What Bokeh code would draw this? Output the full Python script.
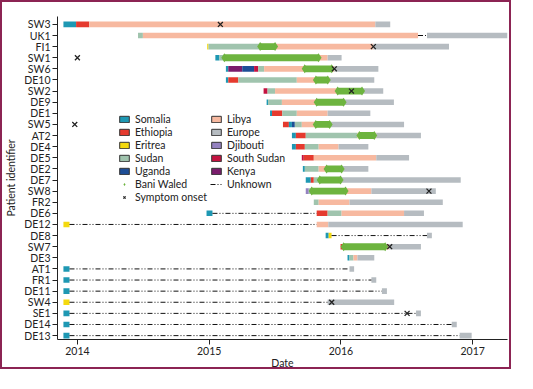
from bokeh.plotting import figure
from bokeh.models import Range1d, Legend, LegendItem, FixedTicker, ColumnDataSource
from bokeh.embed import file_html
from bokeh.resources import INLINE

FONT = "Lato"

# ---------------- data ----------------
patients = ["SW3", "UK1", "FI1", "SW1", "SW6", "DE10", "SW2", "DE9", "DE1", "SW5",
            "AT2", "DE4", "DE5", "DE2", "DE7", "SW8", "FR2", "DE6", "DE12", "DE8",
            "SW7", "DE3", "AT1", "FR1", "DE11", "SW4", "SE1", "DE14", "DE13"]

places = ["Somalia", "Ethiopia", "Eritrea", "Sudan", "Uganda",
          "Libya", "Europe", "Djibouti", "South Sudan", "Kenya"]
place_colors = ["#1E98B3", "#E53A2E", "#F4D90E", "#A0C4AE", "#1D4E96",
                "#F7B9A0", "#B6BCC1", "#9482C0", "#C41240", "#7A1C6C"]

year_ticks = [2014, 2015, 2016, 2017]

# stays (decimal years)
seg_patient = ["SW3", "SW3", "SW3", "SW3",
               "UK1", "UK1", "UK1",
               "FI1", "FI1", "FI1", "FI1",
               "SW1", "SW1", "SW1", "SW1",
               "SW6", "SW6", "SW6", "SW6", "SW6", "SW6", "SW6",
               "DE10", "DE10", "DE10", "DE10", "DE10",
               "SW2", "SW2", "SW2", "SW2",
               "DE9", "DE9", "DE9", "DE9",
               "DE1", "DE1", "DE1", "DE1", "DE1",
               "SW5", "SW5", "SW5", "SW5", "SW5", "SW5",
               "AT2", "AT2", "AT2", "AT2", "AT2",
               "DE4", "DE4", "DE4", "DE4", "DE4",
               "DE5", "DE5", "DE5", "DE5",
               "DE2", "DE2", "DE2", "DE2",
               "DE7", "DE7", "DE7", "DE7", "DE7",
               "SW8", "SW8", "SW8", "SW8",
               "FR2", "FR2", "FR2",
               "DE6", "DE6", "DE6", "DE6", "DE6",
               "DE12", "DE12", "DE12",
               "DE8", "DE8", "DE8",
               "SW7", "SW7", "SW7",
               "DE3", "DE3", "DE3", "DE3",
               "AT1", "AT1", "FR1", "FR1", "DE11", "DE11", "SW4", "SW4",
               "SE1", "SE1", "DE14", "DE14", "DE13", "DE13"]
seg_place = ["Somalia", "Ethiopia", "Libya", "Europe",
             "Sudan", "Libya", "Europe",
             "Eritrea", "Sudan", "Libya", "Europe",
             "Somalia", "Sudan", "Libya", "Europe",
             "Somalia", "Kenya", "Uganda", "South Sudan", "Sudan", "Libya", "Europe",
             "Somalia", "Ethiopia", "Sudan", "Libya", "Europe",
             "South Sudan", "Sudan", "Libya", "Europe",
             "Somalia", "Sudan", "Libya", "Europe",
             "Somalia", "Ethiopia", "Sudan", "Libya", "Europe",
             "Ethiopia", "Somalia", "Uganda", "Sudan", "Libya", "Europe",
             "Somalia", "Ethiopia", "Sudan", "Libya", "Europe",
             "Somalia", "Ethiopia", "Sudan", "Libya", "Europe",
             "South Sudan", "Ethiopia", "Libya", "Europe",
             "Somalia", "Sudan", "Libya", "Europe",
             "Somalia", "Ethiopia", "Sudan", "Libya", "Europe",
             "Djibouti", "Sudan", "Libya", "Europe",
             "Sudan", "Libya", "Europe",
             "Somalia", "Ethiopia", "Sudan", "Libya", "Europe",
             "Eritrea", "Libya", "Europe",
             "Somalia", "Eritrea", "Europe",
             "Ethiopia", "Libya", "Europe",
             "Somalia", "Sudan", "Libya", "Europe",
             "Somalia", "Europe", "Somalia", "Europe", "Somalia", "Europe", "Eritrea", "Europe",
             "Somalia", "Europe", "Somalia", "Europe", "Somalia", "Europe"]
seg_start = [2013.894, 2013.990, 2014.090, 2016.261,
             2014.460, 2014.497, 2016.653,
             2014.985, 2014.995, 2015.400, 2016.246,
             2015.047, 2015.078, 2015.115, 2015.899,
             2015.127, 2015.145, 2015.251, 2015.341, 2015.372, 2015.417, 2015.950,
             2015.127, 2015.145, 2015.221, 2015.665, 2015.914,
             2015.413, 2015.443, 2015.500, 2016.155,
             2015.436, 2015.447, 2015.552, 2016.020,
             2015.462, 2015.477, 2015.555, 2015.665, 2015.899,
             2015.560, 2015.605, 2015.628, 2015.650, 2015.703, 2015.914,
             2015.628, 2015.658, 2015.733, 2016.125, 2016.268,
             2015.628, 2015.658, 2015.726, 2015.831, 2015.982,
             2015.703, 2015.718, 2015.794, 2016.268,
             2015.711, 2015.726, 2015.831, 2016.005,
             2015.733, 2015.771, 2015.794, 2015.839, 2015.997,
             2015.733, 2015.756, 2015.778, 2016.231,
             2015.794, 2015.831, 2016.065,
             2014.980, 2015.816, 2015.899, 2016.005, 2016.479,
             2013.894, 2015.816, 2015.904,
             2015.884, 2015.907, 2016.653,
             2015.997, 2016.020, 2016.366,
             2016.050, 2016.065, 2016.095, 2016.125,
             2013.894, 2016.065, 2013.894, 2016.231, 2013.894, 2016.311, 2013.894, 2015.899,
             2013.894, 2016.570, 2013.894, 2016.841, 2013.894, 2016.901]
seg_end = [2013.990, 2014.090, 2016.261, 2016.374,
           2014.497, 2016.585, 2017.271,
           2014.995, 2015.400, 2016.246, 2016.820,
           2015.078, 2015.115, 2015.899, 2016.005,
           2015.145, 2015.251, 2015.341, 2015.372, 2015.417, 2015.950, 2016.284,
           2015.145, 2015.221, 2015.665, 2015.914, 2016.253,
           2015.443, 2015.500, 2016.155, 2016.321,
           2015.447, 2015.552, 2016.020, 2016.402,
           2015.477, 2015.555, 2015.665, 2015.899, 2016.223,
           2015.605, 2015.628, 2015.650, 2015.703, 2015.914, 2016.479,
           2015.658, 2015.733, 2016.125, 2016.268, 2016.607,
           2015.658, 2015.726, 2015.831, 2015.982, 2016.208,
           2015.718, 2015.794, 2016.268, 2016.517,
           2015.726, 2015.831, 2016.005, 2016.208,
           2015.771, 2015.794, 2015.839, 2015.997, 2016.909,
           2015.756, 2015.778, 2016.231, 2016.720,
           2015.831, 2016.065, 2016.773,
           2015.025, 2015.899, 2016.005, 2016.479, 2016.630,
           2013.940, 2015.904, 2016.924,
           2015.907, 2015.929, 2016.690,
           2016.020, 2016.366, 2016.607,
           2016.065, 2016.095, 2016.125, 2016.253,
           2013.940, 2016.100, 2013.940, 2016.268, 2013.940, 2016.349, 2013.940, 2016.404,
           2013.940, 2016.607, 2013.940, 2016.879, 2013.940, 2016.992]

# unknown whereabouts
unk_patient = ["UK1", "DE6", "DE12", "DE8", "AT1", "FR1", "DE11", "SW4", "SE1", "DE14", "DE13"]
unk_start = [2016.585, 2015.025, 2013.940, 2015.929, 2013.940, 2013.940, 2013.940,
             2013.940, 2013.940, 2013.940, 2013.940]
unk_end = [2016.653, 2015.816, 2015.816, 2016.653, 2016.065, 2016.231, 2016.311,
           2015.899, 2016.570, 2016.841, 2016.901]

# Bani Waled stays
bw_patient = ["FI1", "SW1", "SW6", "DE10", "SW2", "DE9", "SW5", "AT2", "DE2", "DE7", "SW8", "SW7"]
bw_start = [2015.387, 2015.115, 2015.725, 2015.810, 2015.975, 2015.816, 2015.809,
            2016.140, 2015.891, 2015.839, 2015.778, 2016.020]
bw_end = [2015.500, 2015.830, 2015.930, 2015.900, 2016.160, 2016.020, 2015.914,
          2016.253, 2016.005, 2015.997, 2016.035, 2016.336]

# symptom onset
onset_patient = ["SW3", "FI1", "SW1", "SW6", "SW2", "SW5", "SW8", "SW7", "SW4", "SE1"]
onset_date = [2015.085, 2016.246, 2014.000, 2015.950, 2016.080, 2013.980,
              2016.668, 2016.370, 2015.930, 2016.502]

# ---------------- figure ----------------
color_of = dict(zip(places, place_colors))
row_of = {name: i for i, name in enumerate(patients)}
GREEN = "#6DB43F"
DASH = "5 2 1 2 1 2"
PAD_TOP, PAD_BOTTOM = 0.71, 0.35

p = figure(width=511, height=369,
           x_range=Range1d(2013.849, 2017.264),
           y_range=Range1d(len(patients) - 1 + PAD_BOTTOM, -PAD_TOP),
           output_backend="svg", toolbar_location=None,
           min_border_left=54, min_border_top=14, min_border_right=6, min_border_bottom=28)
p.styles = {"border": "2px solid #8C2453"}
p.xgrid.visible = False
p.ygrid.visible = False
p.outline_line_color = None

src = ColumnDataSource(dict(y=[row_of[n] for n in seg_patient], left=seg_start, right=seg_end,
                            color=[color_of[c] for c in seg_place]))
p.hbar(y="y", left="left", right="right", height=0.5, fill_color="color",
       line_color=None, source=src)

unk_y = [row_of[n] for n in unk_patient]
p.segment(x0=unk_start, y0=unk_y, x1=unk_end, y1=unk_y,
          line_color="#111111", line_width=1, line_dash=DASH)

bw_y = [row_of[n] for n in bw_patient]
p.hbar(y=bw_y, left=bw_start, right=bw_end, height=0.62,
       fill_color=GREEN, line_color=None)
p.scatter(x=bw_start + bw_end, y=bw_y + bw_y, marker="diamond",
          size=9, fill_color=GREEN, line_color=None)

on_y = [row_of[n] for n in onset_patient]
p.scatter(x=onset_date, y=on_y, marker="x", size=7,
          line_color="#222222", line_width=1.3)

# axes
for ax in (p.xaxis[0], p.yaxis[0]):
    ax.axis_line_color = "#222222"
    ax.major_tick_line_color = "#222222"
    ax.major_tick_in = 0
    ax.minor_tick_line_color = None
    ax.major_label_text_font = FONT
    ax.major_label_text_font_size = "10.5px"
    ax.major_label_text_color = "#222222"
    ax.axis_label_text_font = FONT
    ax.axis_label_text_font_size = "10.5px"
    ax.axis_label_text_font_style = "normal"
    ax.axis_label_text_color = "#222222"

p.xaxis.ticker = FixedTicker(ticks=year_ticks)
p.xaxis.major_tick_out = 5
p.xaxis.major_label_standoff = 2
p.xaxis.axis_label = "Date"
p.xaxis.axis_label_standoff = -1

p.yaxis.ticker = FixedTicker(ticks=list(range(len(patients))))
p.yaxis.major_label_overrides = {i: n for i, n in enumerate(patients)}
p.yaxis.major_tick_out = 5
p.yaxis.major_label_standoff = 2
p.yaxis.axis_label = "Patient identifier"
p.yaxis.axis_label_standoff = 4


# legend: hidden copies of real marks, used only for the legend icons
def swatch(name):
    i = seg_place.index(name)
    r = p.hbar(y=[row_of[seg_patient[i]]], left=[seg_start[i]], right=[seg_end[i]], height=0.5,
               fill_color=color_of[name], line_color="#333333")
    r.visible = False
    return r


left_items = [LegendItem(label=n, renderers=[swatch(n)])
              for n in ["Somalia", "Ethiopia", "Eritrea", "Sudan", "Uganda"]]
r_bw = p.scatter(x=bw_start[:1], y=bw_y[:1], marker="diamond", size=12,
                 fill_color=GREEN, line_color=None)
r_bw.visible = False
left_items.append(LegendItem(label="Bani Waled", renderers=[r_bw]))
r_on = p.scatter(x=onset_date[:1], y=on_y[:1], marker="x", size=7,
                 line_color="#222222", line_width=1.2)
r_on.visible = False
left_items.append(LegendItem(label="Symptom onset", renderers=[r_on]))

right_items = [LegendItem(label=n, renderers=[swatch(n)])
               for n in ["Libya", "Europe", "Djibouti", "South Sudan", "Kenya"]]
r_un = p.line(x=[unk_start[0], unk_end[0]], y=unk_y[:1] * 2,
              line_color="#111111", line_width=1, line_dash=DASH)
r_un.visible = False
right_items.append(LegendItem(label="Unknown", renderers=[r_un]))

for items, loc in ((left_items, (61, 136)), (right_items, (153, 149))):
    lg = Legend(items=items, location=loc, padding=0, margin=0, spacing=1,
                glyph_width=12, glyph_height=8, label_standoff=5,
                label_text_font=FONT, label_text_font_size="10.5px",
                label_text_color="#222222", label_height=8,
                inactive_fill_alpha=0, click_policy="none",
                border_line_color=None, background_fill_alpha=0)
    p.add_layout(lg)

open("out.html", "w").write(file_html(p, INLINE))
